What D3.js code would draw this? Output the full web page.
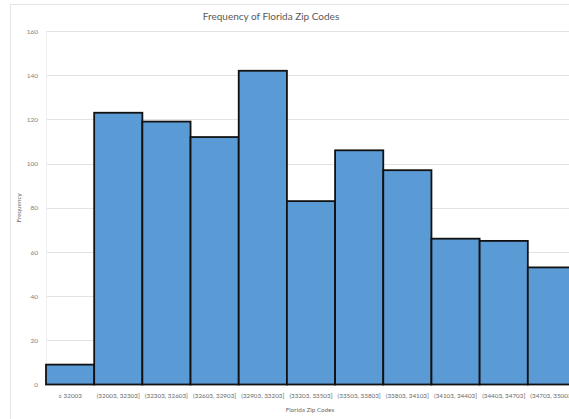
<!DOCTYPE html>
<html>
<head>
<meta charset="utf-8">
<script src="https://cdn.jsdelivr.net/npm/d3@7"></script>
<style>
  html, body { margin: 0; padding: 0; background: #fff; overflow: hidden; }
  svg { display: block; }
</style>
</head>
<body>
<svg id="chart" width="569" height="419"></svg>
<script>
// Zip code bins and their counts
const bins = [
  "≤ 32003",
  "(32003, 32303]",
  "(32303, 32603]",
  "(32603, 32903]",
  "(32903, 33203]",
  "(33203, 33503]",
  "(33503, 33803]",
  "(33803, 34103]",
  "(34103, 34403]",
  "(34403, 34703]",
  "(34703, 35003]"
];
const counts = [9, 123, 119, 112, 142, 83, 106, 97, 66, 65, 53];
const yTicks = [0, 20, 40, 60, 80, 100, 120, 140, 160];

const titleText = "Frequency of Florida Zip Codes";
const xTitle = "Florida Zip Codes";
const yTitle = "Frequency";

const svg = d3.select("#chart");
const font = "Lato, 'Open Sans', sans-serif";

// Outer chart frame
svg.append("rect")
  .attr("x", 10.5).attr("y", 4.5)
  .attr("width", 600).attr("height", 430)
  .attr("fill", "#fff")
  .attr("stroke", "#e6e6e6");

const plot = { left: 46, top: 31, right: 576, bottom: 384.5 };

const x = d3.scaleBand()
  .domain(bins)
  .range([plot.left, plot.right])
  .padding(0);

const y = d3.scaleLinear()
  .domain([0, 160])
  .range([plot.bottom, plot.top]);

// Horizontal gridlines
svg.append("g")
  .selectAll("line")
  .data(yTicks.filter(d => d > 0))
  .join("line")
  .attr("x1", plot.left).attr("x2", 569)
  .attr("y1", d => Math.round(y(d)) + 0.5)
  .attr("y2", d => Math.round(y(d)) + 0.5)
  .attr("stroke", "#e3e3e3")
  .attr("stroke-width", 1);

// Faint left edge of plot area
svg.append("line")
  .attr("x1", plot.left + 0.5).attr("x2", plot.left + 0.5)
  .attr("y1", plot.top).attr("y2", plot.bottom)
  .attr("stroke", "#eeeeee");

// Y axis tick labels
const yAxis = d3.axisLeft(y).tickValues(yTicks).tickSize(0).tickPadding(8);
const gy = svg.append("g")
  .attr("transform", `translate(${plot.left},0)`)
  .call(yAxis);
gy.select(".domain").remove();
gy.selectAll("text")
  .attr("font-family", font)
  .attr("font-size", 6.5)
  .attr("fill", "#7f7f7f");

// Histogram bars
svg.append("g")
  .selectAll("rect")
  .data(bins.map((b, i) => ({ bin: b, count: counts[i] })))
  .join("rect")
  .attr("x", d => x(d.bin))
  .attr("y", d => y(d.count))
  .attr("width", x.bandwidth())
  .attr("height", d => y(0) - y(d.count))
  .attr("fill", "#5b9bd5")
  .attr("stroke", "#111")
  .attr("stroke-width", 1.8);

// X axis category labels
const xAxis = d3.axisBottom(x).tickSize(0).tickPadding(9);
const gx = svg.append("g")
  .attr("transform", `translate(0,${plot.bottom})`)
  .call(xAxis);
gx.select(".domain").remove();
gx.selectAll("text")
  .attr("font-family", font)
  .attr("font-size", 6.3)
  .attr("fill", "#6a6a6a");

// Title
svg.append("text")
  .attr("x", 271).attr("y", 20)
  .attr("text-anchor", "middle")
  .attr("font-family", font)
  .attr("font-size", 10)
  .attr("fill", "#595959")
  .text(titleText);

// Axis titles
svg.append("text")
  .attr("x", 310).attr("y", 412)
  .attr("text-anchor", "middle")
  .attr("font-family", font)
  .attr("font-size", 6.3)
  .attr("fill", "#6a6a6a")
  .text(xTitle);

svg.append("text")
  .attr("transform", `translate(21,${(plot.top + plot.bottom) / 2}) rotate(-90)`)
  .attr("text-anchor", "middle")
  .attr("font-family", font)
  .attr("font-size", 6.3)
  .attr("fill", "#6a6a6a")
  .text(yTitle);
</script>
</body>
</html>
